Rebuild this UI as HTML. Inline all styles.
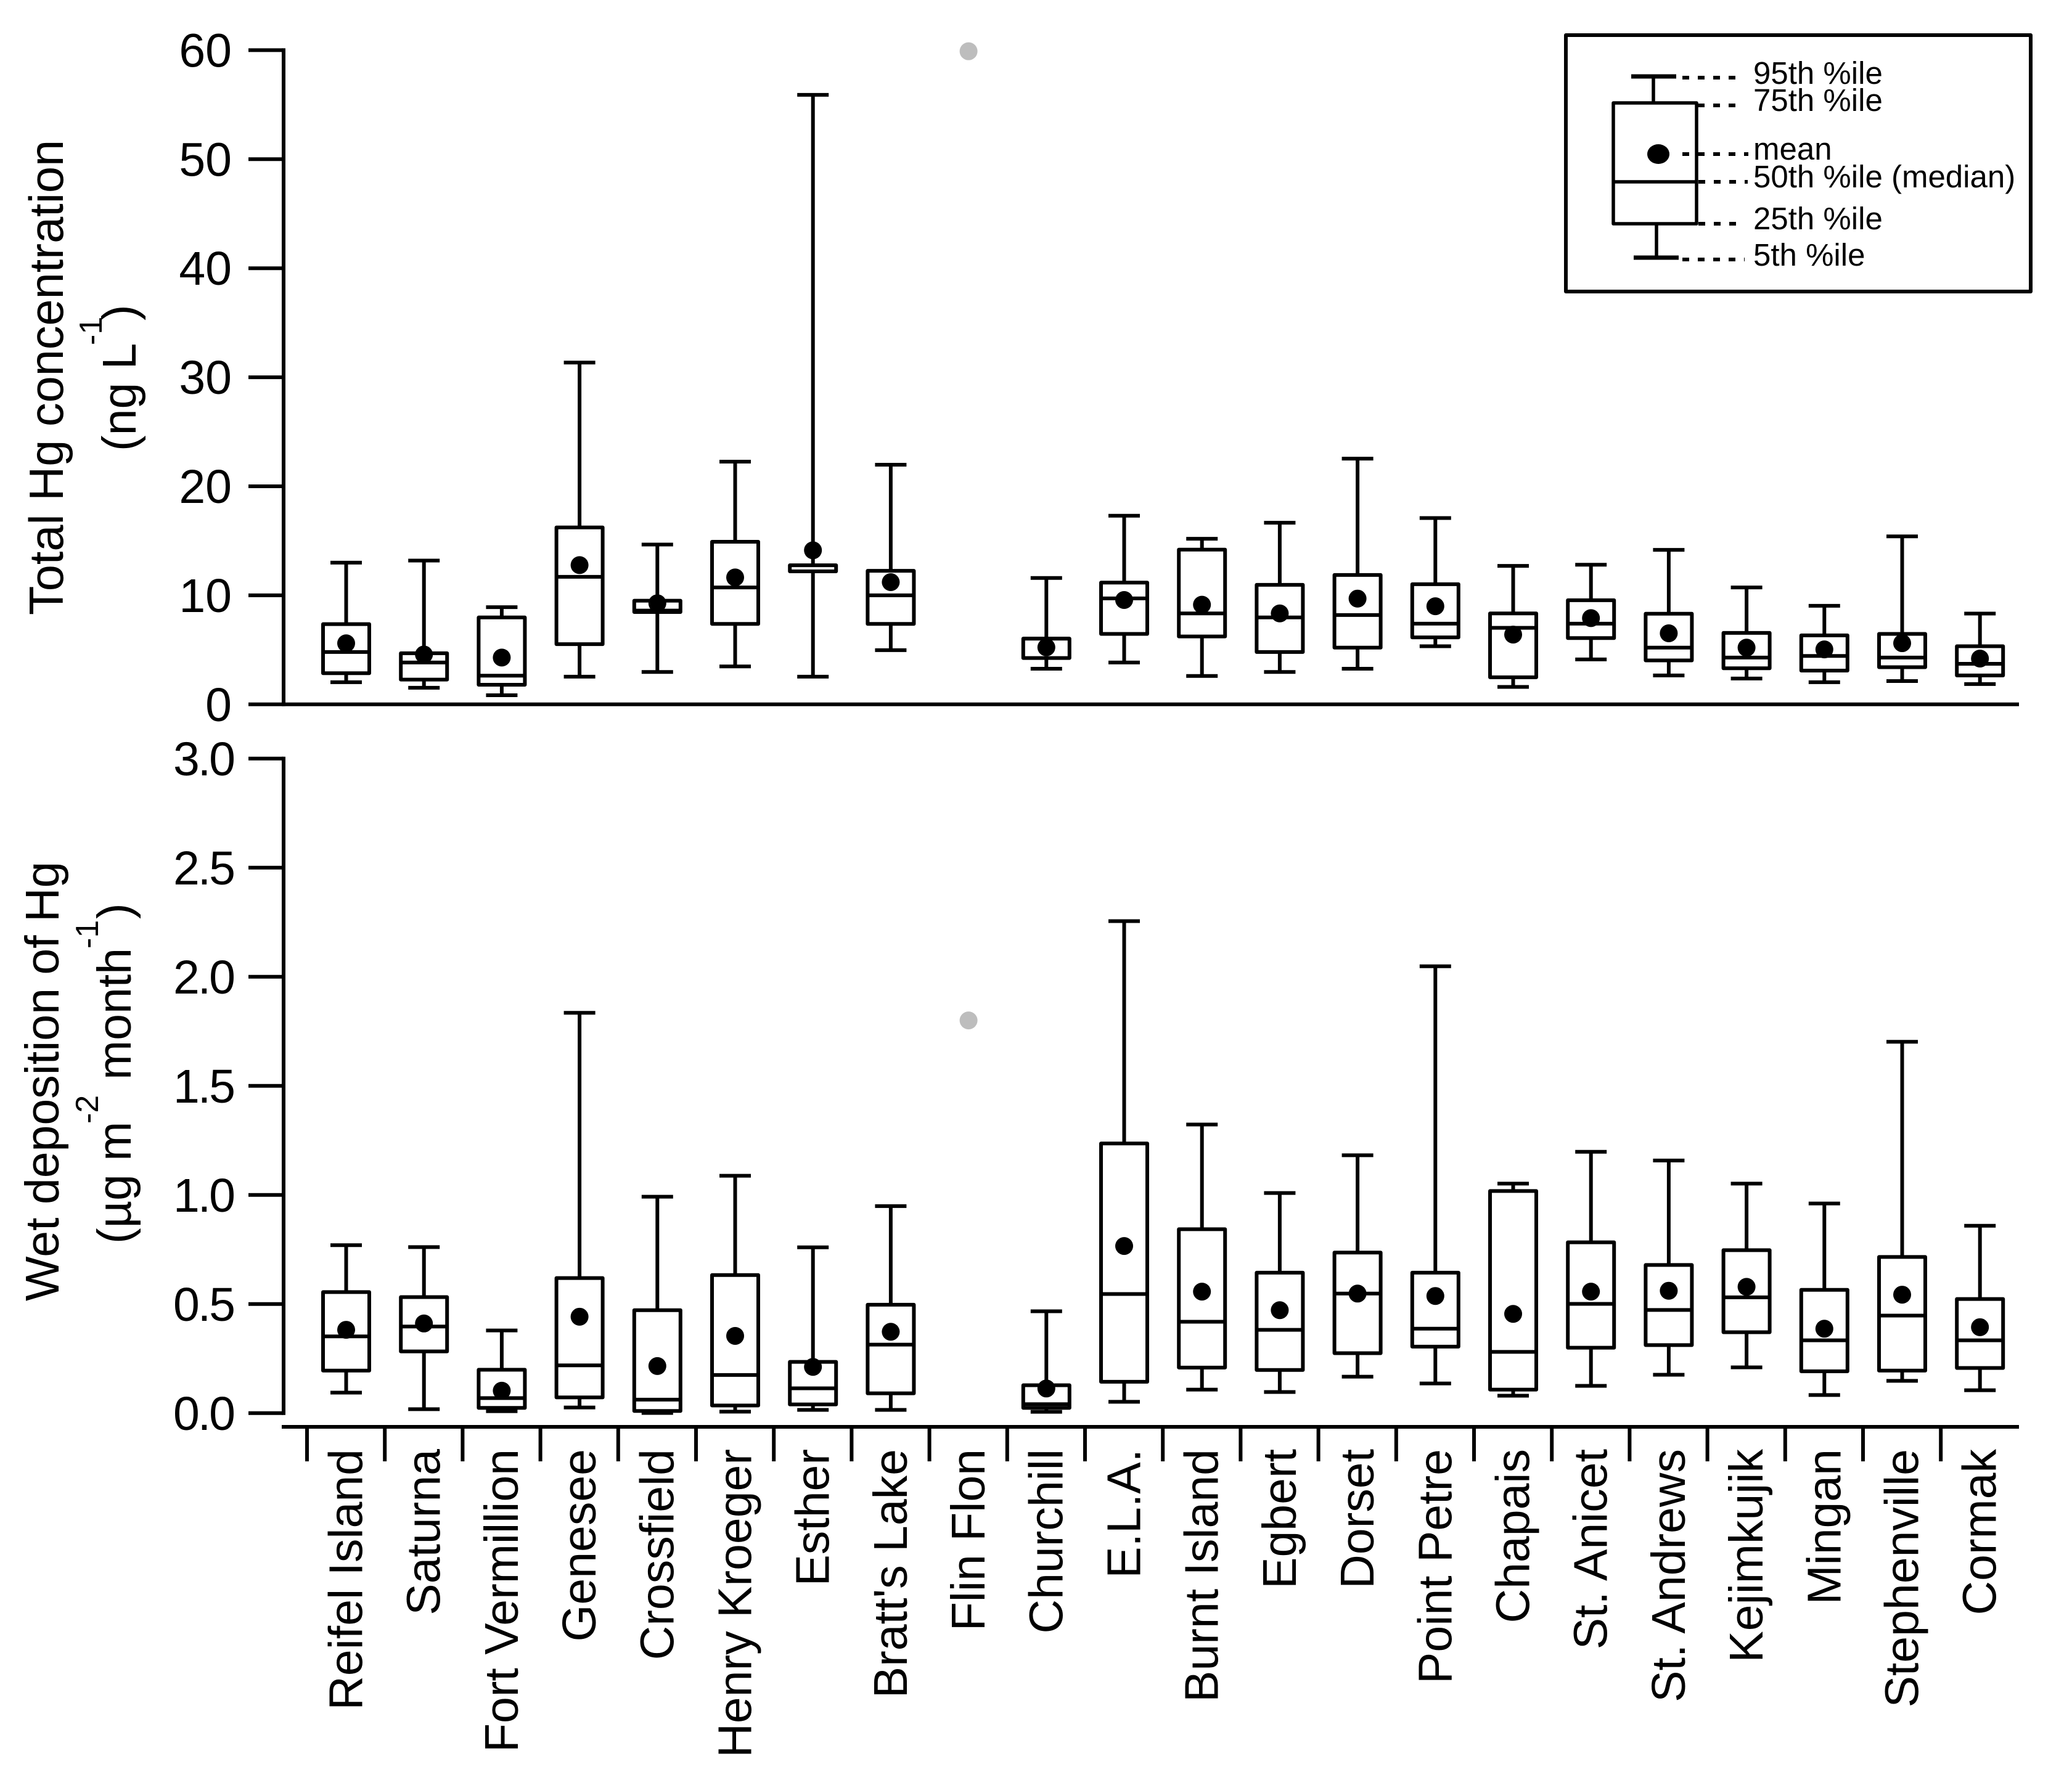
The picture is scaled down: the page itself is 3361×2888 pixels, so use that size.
<!DOCTYPE html>
<html lang="en">
<head>
<meta charset="utf-8">
<title>Total Hg concentration and wet deposition by site</title>
<style>
html,body{margin:0;padding:0;background:#fff;}
svg{display:block;font-family:"Liberation Sans",Arial,sans-serif;fill:#000;}
</style>
</head>
<body>
<svg id="chart" xmlns="http://www.w3.org/2000/svg" width="3361" height="2888" viewBox="0 0 3361 2888">
  <rect x="0" y="0" width="3361" height="2888" fill="#fff"/>

  <text transform="rotate(-90)" x="-998" y="102" font-size="77.5">Total Hg concentration</text>
  <text transform="rotate(-90)" font-size="77"><tspan x="-732" y="220">(ng L</tspan><tspan x="-560" y="165" font-size="52">-1</tspan><tspan x="-520" y="220">)</tspan></text>

  <text transform="rotate(-90)" x="-2111" y="95" font-size="77">Wet deposition of Hg</text>
  <text transform="rotate(-90)" font-size="77"><tspan x="-2018" y="212">(µg m</tspan><tspan x="-1823" y="159" font-size="52">-2</tspan><tspan x="-1752" y="212">month</tspan><tspan x="-1539" y="159" font-size="52">-1</tspan><tspan x="-1491" y="212">)</tspan></text>

  <g id="top-panel"></g>
  <g id="bottom-panel"></g>
  <g id="x-axis"></g>

  <g stroke="#000" fill="none" stroke-linejoin="round">
    <rect x="2540" y="57" width="754" height="416" stroke-width="6"/>
    <line x1="2646" y1="124" x2="2719" y2="124" stroke-width="7"/>
    <line x1="2682" y1="124" x2="2682" y2="167" stroke-width="5.5"/>
    <rect x="2617" y="167" width="135" height="196" stroke-width="5.5"/>
    <line x1="2617" y1="295" x2="2752" y2="295" stroke-width="5.5"/>
    <line x1="2687" y1="363" x2="2687" y2="418" stroke-width="5.5"/>
    <line x1="2650" y1="418" x2="2723" y2="418" stroke-width="7"/>
    <ellipse cx="2690" cy="250" rx="18" ry="16" fill="#000" stroke="none"/>
    <g stroke-width="6" stroke-dasharray="11 14">
      <line x1="2729" y1="126" x2="2816" y2="126"/>
      <line x1="2754" y1="171" x2="2825" y2="171"/>
      <line x1="2729" y1="250" x2="2836" y2="250"/>
      <line x1="2755" y1="295" x2="2835" y2="295"/>
      <line x1="2755" y1="363" x2="2830" y2="363"/>
      <line x1="2729" y1="421" x2="2830" y2="421"/>
    </g>
  </g>
  <g font-size="51">
    <text x="2844" y="136">95th %ile</text>
    <text x="2844" y="180">75th %ile</text>
    <text x="2844" y="259">mean</text>
    <text x="2844" y="304">50th %ile (median)</text>
    <text x="2844" y="372">25th %ile</text>
    <text x="2844" y="431">5th %ile</text>
  </g>
</svg>

<script>
const sites = ["Reifel Island","Saturna","Fort Vermillion","Genesee","Crossfield","Henry Kroeger","Esther","Bratt's Lake","Flin Flon","Churchill","E.L.A.","Burnt Island","Egbert","Dorset","Point Petre","Chapais","St. Anicet","St. Andrews","Kejimkujik","Mingan","Stephenville","Cormak"];

const topTicks = ["0","10","20","30","40","50","60"];
const topP95  = [13.0,13.19,8.91,31.35,14.66,22.26,55.9,21.98,null,11.59,17.3,15.19,16.66,22.54,17.09,12.7,12.81,14.17,10.72,9.04,15.41,8.33];
const topQ75  = [7.36,4.69,7.97,16.23,9.51,14.91,12.76,12.25,null,6.03,11.17,14.19,10.96,11.87,11.02,8.34,9.55,8.31,6.55,6.33,6.46,5.33];
const topMed  = [4.8,3.84,2.63,11.7,8.6,10.72,12.2,10.0,null,6.03,9.72,8.34,7.97,8.19,7.4,7.02,7.4,5.2,4.29,4.44,4.29,3.72];
const topMean = [5.6,4.57,4.29,12.77,9.27,11.64,14.13,11.21,null,5.23,9.57,9.14,8.34,9.7,9.0,6.4,7.91,6.52,5.2,5.04,5.61,4.2];
const topQ25  = [2.86,2.27,1.8,5.52,8.47,7.38,12.2,7.38,null,4.25,6.46,6.23,4.8,5.2,6.14,2.48,6.08,4.03,3.31,3.1,3.41,2.65];
const topP5   = [2.03,1.52,0.84,2.54,2.97,3.48,2.54,4.97,null,3.27,3.84,2.6,2.97,3.27,5.33,1.6,4.12,2.65,2.37,2.03,2.14,1.86];
const topSingle = [null,null,null,null,null,null,null,null,59.9,null,null,null,null,null,null,null,null,null,null,null,null,null];

const botTicks = ["0.0","0.5","1.0","1.5","2.0","2.5","3.0"];
const botP95  = [0.77,0.761,0.379,1.835,0.992,1.088,0.76,0.949,null,0.467,2.255,1.323,1.009,1.182,2.048,1.052,1.198,1.158,1.052,0.961,1.702,0.859];
const botQ75  = [0.555,0.532,0.199,0.619,0.472,0.633,0.235,0.497,null,0.128,1.236,0.843,0.644,0.736,0.644,1.018,0.783,0.679,0.747,0.565,0.716,0.523];
const botMed  = [0.352,0.397,0.069,0.219,0.062,0.175,0.114,0.314,null,0.041,0.546,0.419,0.382,0.548,0.387,0.281,0.501,0.473,0.531,0.334,0.447,0.334];
const botMean = [0.382,0.411,0.103,0.442,0.216,0.354,0.212,0.373,null,0.113,0.766,0.557,0.472,0.548,0.537,0.455,0.557,0.561,0.579,0.387,0.543,0.394];
const botQ25  = [0.195,0.283,0.024,0.072,0.01,0.035,0.04,0.091,null,0.024,0.144,0.209,0.198,0.275,0.305,0.108,0.3,0.312,0.371,0.192,0.195,0.207];
const botP5   = [0.094,0.018,0.009,0.026,0.001,0.007,0.015,0.015,null,0.006,0.052,0.108,0.097,0.167,0.136,0.08,0.125,0.176,0.21,0.083,0.148,0.105];
const botSingle = [null,null,null,null,null,null,null,null,1.8,null,null,null,null,null,null,null,null,null,null,null,null,null];

const NS = "http://www.w3.org/2000/svg";
function make(parent, tag, attrs) {
  const el = document.createElementNS(NS, tag);
  for (const k in attrs) el.setAttribute(k, attrs[k]);
  parent.appendChild(el);
  return el;
}
function seg(parent, x1, y1, x2, y2, w) {
  return make(parent, "line", {x1:x1, y1:y1, x2:x2, y2:y2, stroke:"#000", "stroke-width":w});
}
function xCenter(i) { return 561.5 + i * 126.2; }
function xTick(i) { return 498 + i * 126.2; }
function yTop(v) { return 1142.8 - v * 17.69; }
function yBot(v) { return 2292.8 - v * 354; }

function drawPanel(host, yFn, ticks, p95, q75, med, mean, q25, p5, single, labelSpacing) {
  const axisX = 460;
  const axis = make(host, "g", {});
  
  
  const spine = seg(axis, axisX, yFn(+ticks[ticks.length - 1]) - 3, axisX, yFn(0) + 3, 6);
  
  
  ticks.forEach(function (t) {
    const y = yFn(+t);
    const mark = seg(axis, 403, y, axisX, y, 6);
    
    
    const lab = make(axis, "text", {x:376 + labelSpacing, y:y + 27, "text-anchor":"end", "font-size":77, "letter-spacing":-labelSpacing});
    
    
    lab.textContent = t;
  });
  sites.forEach(function (name, i) {
    const cx = xCenter(i);
    const g = make(host, "g", {});
    
    
    g.setAttribute('aria-label', name);
    if (p95[i] !== null) {
      const upper = seg(g, cx, yFn(p95[i]), cx, yFn(q75[i]), 6);
      
      
      const lower = seg(g, cx, yFn(q25[i]), cx, yFn(p5[i]), 6);
      
      
      const capHi = seg(g, cx - 25.5, yFn(p95[i]), cx + 25.5, yFn(p95[i]), 6);
      
      
      const capLo = seg(g, cx - 25.5, yFn(p5[i]), cx + 25.5, yFn(p5[i]), 6);
      
      
      const box = make(g, "rect", {x:cx - 37.5, y:yFn(q75[i]), width:75, height:yFn(q25[i]) - yFn(q75[i]), fill:"none", stroke:"#000", "stroke-width":6, "stroke-linejoin":"round"});
      
      
      const mid = seg(g, cx - 37.5, yFn(med[i]), cx + 37.5, yFn(med[i]), 6);
      
      
      const dot = make(g, "circle", {cx:cx, cy:yFn(mean[i]), r:14.5, fill:"#000"});
      
      
    }
    if (single[i] !== null) {
      const solo = make(g, "circle", {cx:cx, cy:yFn(single[i]), r:14.5, fill:"#bdbdbd"});
      
      
    }
  });
}

drawPanel(document.getElementById("top-panel"), yTop, topTicks, topP95, topQ75, topMed, topMean, topQ25, topP5, topSingle, 0);
drawPanel(document.getElementById("bottom-panel"), yBot, botTicks, botP95, botQ75, botMed, botMean, botQ25, botP5, botSingle, 3);

const topBase = seg(document.getElementById("top-panel"), 458, yTop(0), 3275, yTop(0), 6);



const xHost = document.getElementById("x-axis");
const xLine = seg(xHost, 457, 2315, 3275, 2315, 6);


sites.forEach(function (name, i) {
  const mark = seg(xHost, xTick(i), 2315, xTick(i), 2371, 6);
  
  
  const bx = xCenter(i) + 26;
  const lab = make(xHost, "text", {x:bx, y:2351, transform:"rotate(-90 " + bx + " 2351)", "text-anchor":"end", "font-size":77});
  
  
  lab.textContent = name;
});
</script>
</body>
</html>
